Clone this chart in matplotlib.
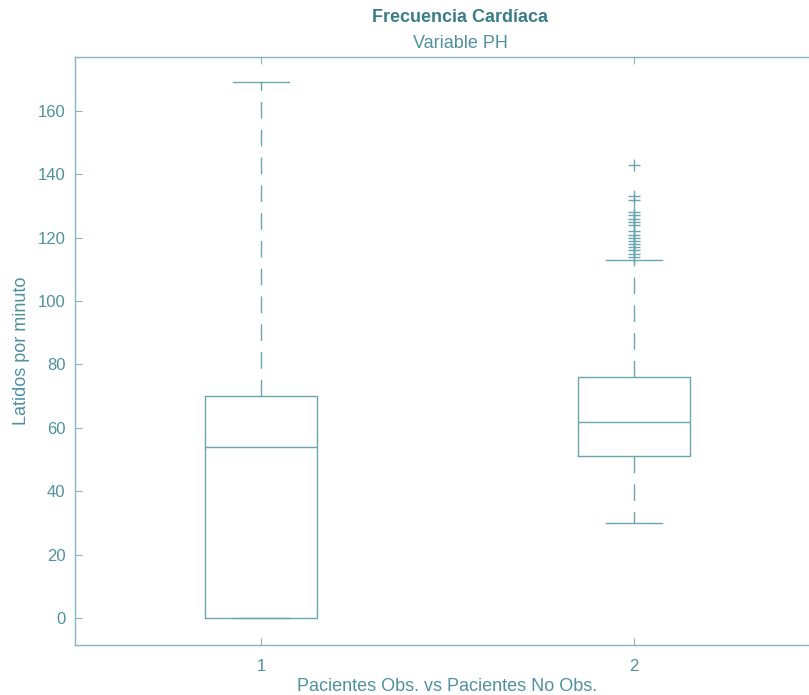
import matplotlib.pyplot as plt

plt.rcParams['font.family'] = ['Liberation Sans', 'DejaVu Sans']

# datos
grupos = [1, 2]
q1 = [0, 51]
mediana = [54, 62]
q3 = [70, 76]
bigote_inf = [0, 30]
bigote_sup = [169, 113]
atipicos = [[],
            [143, 133, 132, 128, 127, 126, 125, 124, 122, 121, 120, 119,
             118, 117, 116, 115, 114]]

col_linea = '#6aa6ae'
col_texto = '#4f919c'
col_titulo = '#3a7d86'
col_eje = '#86b5bc'

stats = []
for i in range(len(grupos)):
    stats.append({"med": mediana[i], "q1": q1[i], "q3": q3[i],
                  "whislo": bigote_inf[i], "whishi": bigote_sup[i],
                  "fliers": atipicos[i]})

fig = plt.figure(figsize=(8.09, 6.95), dpi=100)
ax = fig.add_axes([75/809, 1-645/695, 745/809, 588/695])

ax.bxp(stats, positions=grupos, widths=0.3,
       boxprops=dict(color=col_linea, linewidth=1),
       medianprops=dict(color=col_linea, linewidth=1),
       whiskerprops=dict(color=col_linea, linewidth=1, linestyle=(0, (12, 8))),
       capprops=dict(color=col_linea, linewidth=1),
       flierprops=dict(marker='+', markeredgecolor=col_linea, markersize=9,
                       markeredgewidth=1, linestyle='none'),
       capwidths=0.15)

ax.set_xlim(0.5, 2.5)
ax.set_ylim(-8.5, 177)
ax.set_xticks(grupos)
ax.set_xticklabels([str(g) for g in grupos])
ax.set_yticks(range(0, 161, 20))

for s in ax.spines.values():
    s.set_color(col_eje)
    s.set_linewidth(1)
ax.tick_params(direction='in', colors=col_eje, labelcolor=col_texto,
               labelsize=12, length=5, top=True, right=True)
ax.tick_params(axis='y', pad=7)
ax.tick_params(axis='x', pad=10)

ax.set_xlabel('Pacientes Obs. vs Pacientes No Obs.', color=col_texto, fontsize=13, labelpad=3)
ax.set_ylabel('Latidos por minuto', color=col_texto, fontsize=13, labelpad=5)

fig.text(460/809, 1-17/695, 'Frecuencia Cardíaca', ha='center', va='center',
         fontsize=13, fontweight='bold', color=col_titulo)
fig.text(460/809, 1-43/695, 'Variable PH', ha='center', va='center',
         fontsize=13, color=col_texto)

fig.savefig('out.png', dpi=100)
